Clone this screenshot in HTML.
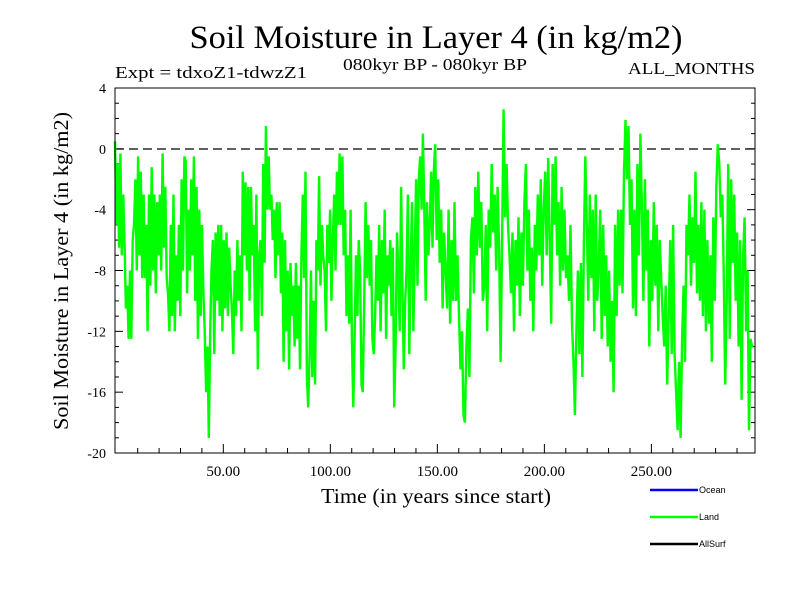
<!DOCTYPE html>
<html><head><meta charset="utf-8"><style>
body{margin:0;background:#fff;}
svg{display:block;font-family:"Liberation Serif",serif;}
</style></head><body>
<svg id="chart" width="800" height="600">
<text x="436" y="48" font-size="33" text-anchor="middle" textLength="493" lengthAdjust="spacingAndGlyphs">Soil Moisture in Layer 4 (in kg/m2)</text>
<text x="435" y="70" font-size="17" text-anchor="middle" textLength="184" lengthAdjust="spacingAndGlyphs">080kyr BP - 080kyr BP</text>
<text x="115" y="78" font-size="17" textLength="192" lengthAdjust="spacingAndGlyphs">Expt = tdxoZ1-tdwzZ1</text>
<text x="755" y="74" font-size="17" text-anchor="end" textLength="127" lengthAdjust="spacingAndGlyphs">ALL_MONTHS</text>
<text x="0" y="0" font-size="21" text-anchor="middle" textLength="318" lengthAdjust="spacingAndGlyphs" transform="translate(68,271) rotate(-90)">Soil Moisture in Layer 4 (in kg/m2)</text>
<text x="436" y="503" font-size="21" text-anchor="middle" textLength="230" lengthAdjust="spacingAndGlyphs">Time (in years since start)</text>
<g id="axes"></g>
<line x1="115" x2="755" y1="149" y2="149" stroke="#000" stroke-width="1.2" stroke-dasharray="9,5"/>
<polyline id="land" fill="none" stroke="#00ff00" stroke-width="2.4"/>
<rect x="115" y="88" width="640" height="365" fill="none" stroke="#000" stroke-width="1"/>
<g>
<line x1="650" x2="698" y1="490" y2="490" stroke="#0000ff" stroke-width="2.5"/>
<text x="699" y="493" font-size="9" font-family="Liberation Sans, sans-serif">Ocean</text>
<line x1="650" x2="698" y1="517" y2="517" stroke="#00ff00" stroke-width="2.5"/>
<text x="699" y="520" font-size="9" font-family="Liberation Sans, sans-serif">Land</text>
<line x1="650" x2="698" y1="544" y2="544" stroke="#000" stroke-width="2.5"/>
<text x="699" y="547" font-size="9" font-family="Liberation Sans, sans-serif">AllSurf</text>
</g>
</svg>
<script>
const yTicks=[4,0,-4,-8,-12,-16,-20];
const xTicks=[50,100,150,200,250];
const xTickLabels=["50.00","100.00","150.00","200.00","250.00"];
const segYears=[[-0.6,75],[75,149],[149,224],[224,298.4]];
const seg1=[0.5,-5,-1,-6.5,-0.3,-7,-3,-6,-10.5,-9,-12.5,-8,-12.5,-6,-5,-2,-8,-0.5,-7,-1.5,-8.5,-3,-8.5,-5,-12,-3,-9,-1.2,-8,-3,-9.5,-3.5,-7,-3,-8,-0.3,-6.5,-2.5,-8.5,-9.5,-12,-5,-11,-3,-12,-7,-10,-5,-11,-2,-8,-0.5,-0.8,-9.5,-4,-8,-2,-7,-0.5,-10,-2.5,-12.5,-4,-11,-5,-9.5,-12,-16,-13,-19,-12,-8,-6,-13.5,-5.5,-10,-5,-11,-5,-12,-6,-10.5,-5.5,-11,-6.5,-9,-10.5,-13.5,-8,-11,-6,-10,-7,-12,-1.5,-7,-2.2,-8,-2.5,-10,-2.5,-7,-5,-12,-3,-14.5,-7,-6,-11,-1,-7.5,1.5,-4,-0.5,-4,-3,-6,-4,-8.5];
const seg2=[-3.5,-7,-3.5,-9.5,-5.5,-14,-6,-12,-8,-14.5,-7.5,-11,-9,-13,-7.5,-12.5,-9,-14.5,-7,-3,-8.5,-1.5,-15,-17,-13.5,-8,-15,-10,-15.5,-6,-8,-1.8,-9,-5,-7,-8,-12,-5,-7.5,-4,-10,-6,-3,-8,-1.5,-5,-0.3,-5,-0.5,-7,-4,-11,-7,-11.5,-4,-12.5,-17,-12,-7,-11,-6,-8,-15.5,-16,-10,-3.5,-8.5,-5,-9,-6,-12.5,-13.5,-11,-7,-10,-5,-12,-6,-9.5,-4,-12.5,-7,-9,-6,-11,-6.5,-17,-13,-5.5,-8,-12,-2.5,-9,-14.5,-10,-8,-3,-13.5,-8,-3.5,-12,-7,-2,-9,-2,-0.5,-4,1,-4,-10,-3.5,-7,-5,-1.5,-6.5,-1.5];
const seg3=[0.3,-6,-2,-7.5,-4,-10.5,-5.5,-8,-10.5,-4,-11.5,-6,-10,-3.5,-10,-7,-11,-14.5,-12,-17.5,-18,-13,-10.5,-15,-6,-4.5,-9.5,-2.5,-7,-1.5,-6.5,-3.5,-10,-9,-5,-12,-4,-6.5,-1,-5.5,-3,-8,-2.5,-6.5,-14,-6,2.6,-4.5,-1,-5,-7,-9.5,-5.5,-12,-6,-9,-4.5,-11,-5.5,-9,-3.5,-1,-8,-4,-10,-6.5,-12,-5,-8,-3,-7,-2,-9,-4,-1.5,-7,-0.6,-6,-11.5,-1,-5,-0.5,-7,-3.5,-9,-2.5,-8,-4,-8.5,-7,-10,-5,-11.5,-14,-17.5,-12,-8,-13.5,-7.5,-15,-6,-0.5,-5,-10,-3,-8.5,-4,-12];
const seg4=[-3,-10,-8,-4,-12.5,-5,-11,-7,-13,-8,-14,-10,-16,-5,-11,-4,-9,-4,-9.5,-1.5,1.9,-2,1.5,-5,-2,-10.5,-4,-11,-1,-7,1,-4,-10,-2,-8,-4,-13,-6,-10,-3.5,-9,-5,-12,-6,-8.5,-11,-13,-9,-15.5,-11,-6,-13.5,-5,-13.5,-16,-18.5,-14,-19,-12.5,-9,-14,-5,-7,-3,-9,-4.5,-7.5,-1.5,-9.5,-5,-10,-3.5,-11,-4,-12,-6,-11.5,-7,-14,-4.5,-10,-2.5,0.3,-1,-4.5,-3,-8,-15.5,-10,-1,-12.5,-2,-7.5,-3,-10,-5.5,-13,-6,-16.5,-7,-4.5,-12,-8,-18.5,-12.5,-13,-13];
const segs=[seg1,seg2,seg3,seg4];
const xMin=-0.6,xMax=298.4,yMin=-20,yMax=4;
const L=115,R=755,T=88,B=453;
function sx(v){return L+(v-xMin)/(xMax-xMin)*(R-L);}
function sy(v){return B-(v-yMin)/(yMax-yMin)*(B-T);}
const ns="http://www.w3.org/2000/svg";
const axes=document.getElementById('axes');
function mk(tag,attrs){const e=document.createElementNS(ns,tag);for(const k in attrs)e.setAttribute(k,attrs[k]);axes.appendChild(e);return e;}
for(let v=yMin;v<=yMax;v++){
  const major=v%4===0;const len=major?8:4;const y=sy(v);
  const a=mk('line',{x1:L,x2:L+len,y1:y,y2:y,stroke:'#000'});
  
  
  const b=mk('line',{x1:R-len,x2:R,y1:y,y2:y,stroke:'#000'});
  
  
}
yTicks.forEach(v=>{
  const t=mk('text',{x:106,y:sy(v)+5,'font-size':14,'text-anchor':'end'});
  t.textContent=String(v);
  
  
});
for(let v=10;v<=290;v+=10){
  const major=v%50===0;const len=major?9:5;const x=sx(v);
  const a=mk('line',{x1:x,x2:x,y1:B,y2:B-len,stroke:'#000'});
  
  
}
xTicks.forEach((v,i)=>{
  const t=mk('text',{x:sx(v),y:476,'font-size':15,'text-anchor':'middle'});
  t.textContent=xTickLabels[i];
  
  
});
const pts=[];
segs.forEach((s,k)=>{
  const a=segYears[k][0],b=segYears[k][1];
  s.forEach((v,i)=>{const t=a+(b-a)*i/s.length;pts.push(sx(t).toFixed(1)+','+sy(v).toFixed(1));});
});
document.getElementById('land').setAttribute('points',pts.join(' '));
</script>
</body></html>
